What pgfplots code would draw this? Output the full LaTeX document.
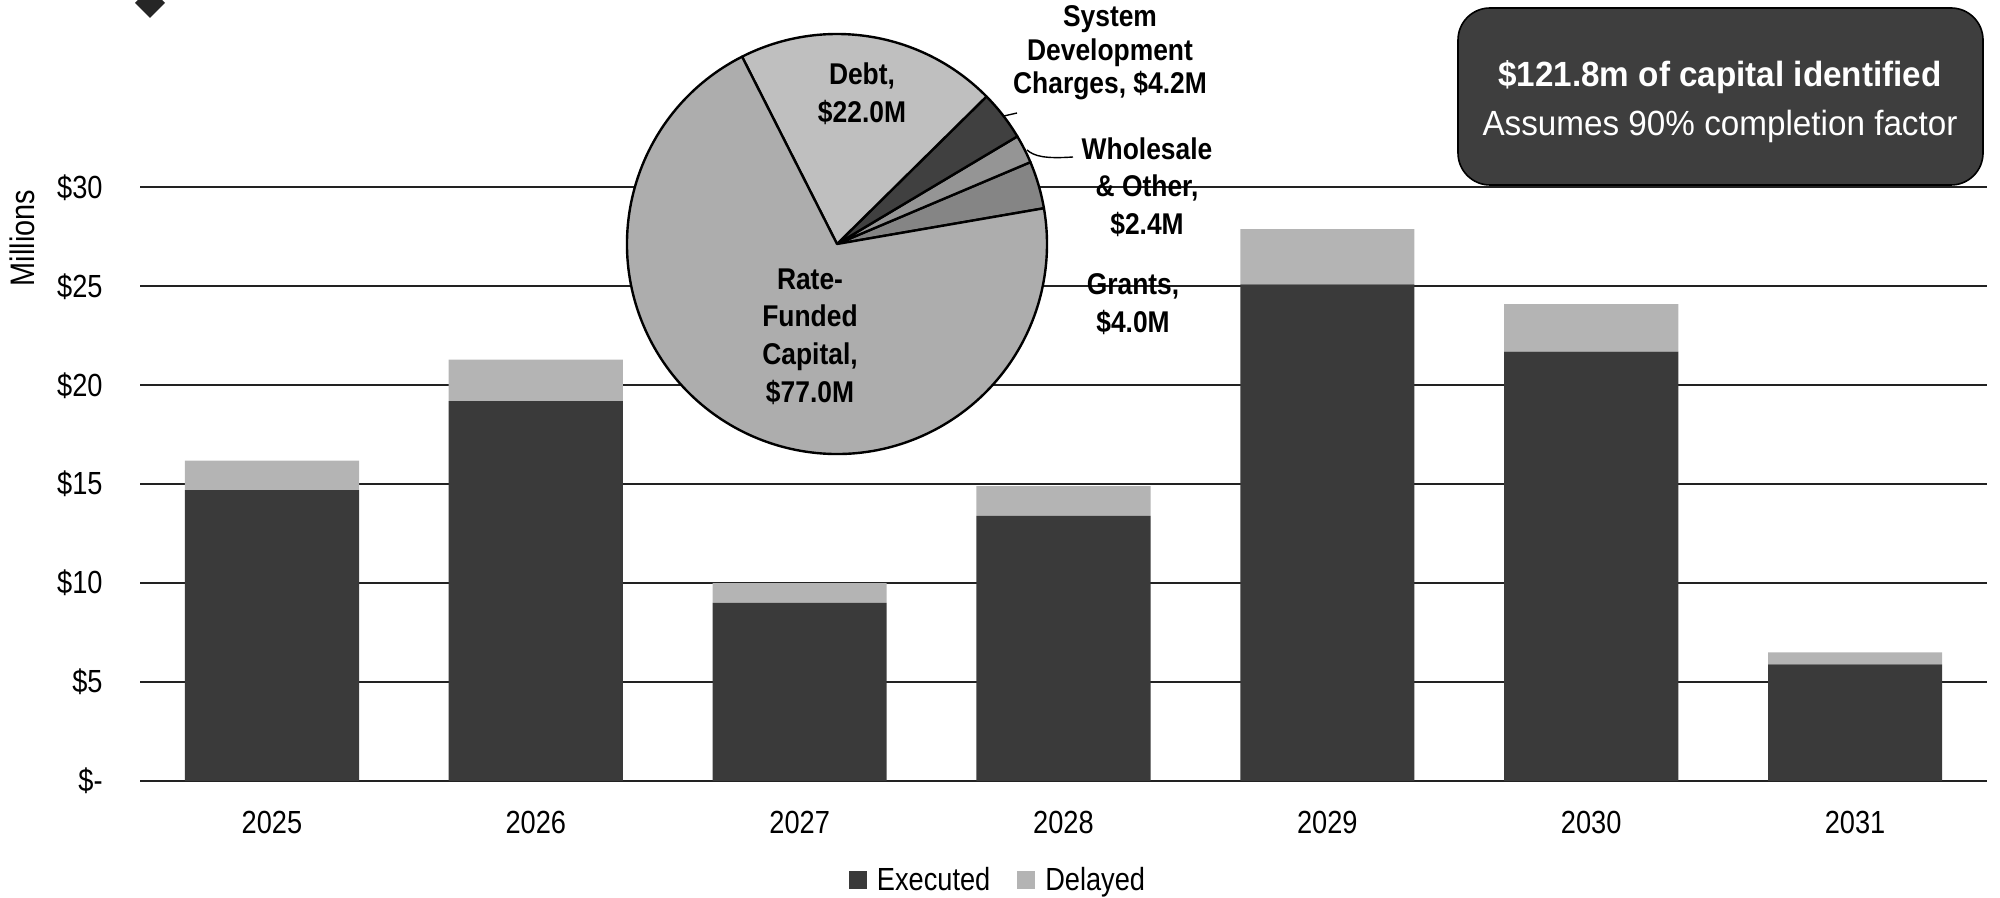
\documentclass[border=0pt]{standalone}
\usepackage{pgfplots}
\pgfplotsset{compat=1.18}
\usepackage{pgfplotstable}
\usepackage{fontspec}
\setmainfont{Liberation Sans}[FakeStretch=0.85]
\newfontfamily\pief{Liberation Sans}[FakeStretch=0.88]
\newfontfamily\boxf{Liberation Sans}[FakeStretch=0.95]

\definecolor{execc}{HTML}{3A3A3A}
\definecolor{delc}{HTML}{B4B4B4}
\definecolor{ratec}{HTML}{ADADAD}
\definecolor{debtc}{HTML}{BFBFBF}
\definecolor{sdcc}{HTML}{404040}
\definecolor{whc}{HTML}{959595}
\definecolor{grc}{HTML}{858585}
\definecolor{boxc}{HTML}{3E3E3E}
\definecolor{gridc}{HTML}{222222}

\pgfplotstableread{
x exec del
0 14.7 1.5
1 19.2 2.1
2 9.0 1.0
3 13.4 1.5
4 25.1 2.8
5 21.7 2.4
6 5.9 0.6
}\bars

\newcommand\tickfont{\fontsize{16bp}{19bp}\selectfont}
\newcommand\piefont{\pief\bfseries\fontsize{15bp}{18.8bp}\selectfont}

\begin{document}
\begin{tikzpicture}
\path[use as bounding box] (0,0) rectangle (1000bp,449bp);

\begin{axis}[
  at={(70bp,58.5bp)}, anchor=south west,
  scale only axis, width=923.5bp, height=296.75bp,
  xmin=-0.5, xmax=6.5, ymin=0, ymax=30,
  ybar stacked, bar width=0.66,
  axis line style={draw=none},
  tick style={draw=none},
  ymajorgrids, grid style={gridc, line width=1bp},
  xtick={0,1,2,3,4,5,6},
  xticklabels={2025,2026,2027,2028,2029,2030,2031},
  ytick={0,5,10,15,20,25,30},
  yticklabels={\$-,\$5,\$10,\$15,\$20,\$25,\$30},
  ticklabel style={font=\tickfont},
  yticklabel style={anchor=east, inner sep=0pt, xshift=-18.5bp},
  xticklabel style={anchor=north, inner sep=0pt, yshift=-15bp},
  legend style={at={(axis description cs:0.464,-0.1668)}, anchor=center,
    draw=none, fill=none, legend columns=2, font=\tickfont,
    nodes={inner sep=0pt, anchor=west},
    /tikz/every odd column/.append style={column sep=5bp},
    /tikz/every even column/.append style={column sep=13.5bp}},
  legend image code/.code={\fill[#1] (0bp,-4.5bp) rectangle (9bp,4.5bp);},
]
\addplot[fill=execc, draw=none] table[x=x, y=exec] {\bars};
\addlegendentry{Executed}
\addplot[fill=delc, draw=none] table[x=x, y=del] {\bars};
\addlegendentry{Delayed}
\end{axis}

% pie chart of funding sources
\begin{axis}[at={(418.5bp,327bp)}, anchor=center, hide axis,
  scale only axis, width=210bp, height=210bp,
  xmin=-1, xmax=1, ymin=-1, ymax=1, clip=false]
\pgfplotsextra{
  \xdef\acc{9.8}
  \foreach \v/\c in {4.0/grc, 2.4/whc, 4.2/sdcc, 22.0/debtc, 77.0/ratec}{
    \pgfmathsetmacro\aEnd{\acc+\v/109.6*360}
    \filldraw[fill=\c, draw=black, line width=1.2bp, line join=round]
      (axis cs:0,0) -- ++(\acc:105bp) arc[start angle=\acc, end angle=\aEnd, radius=105bp] -- cycle;
    \xdef\acc{\aEnd}
  }
}
\end{axis}

% leader lines
\draw[black, line width=0.7bp] (502bp,391bp) -- (508.5bp,392.5bp);
\draw[black, line width=0.7bp] (513.5bp,374bp) .. controls (517bp,371bp) and (522bp,369.5bp) .. (536.5bp,370.5bp);

% pie labels
\node[font=\pief\bfseries\fontsize{15bp}{16.8bp}\selectfont, align=center] at (555bp,422.5bp) {System\\Development\\Charges, \$4.2M};
\node[font=\piefont, align=center] at (431bp,402.25bp) {Debt,\\\$22.0M};
\node[font=\piefont, align=center] at (573.5bp,355.5bp) {Wholesale\\\& Other,\\\$2.4M};
\node[font=\piefont, align=center] at (566.5bp,297bp) {Grants,\\\$4.0M};
\node[font=\piefont, align=center] at (405bp,280.75bp) {Rate-\\Funded\\Capital,\\\$77.0M};

% y-axis title
\node[font=\fontsize{17bp}{20bp}\selectfont, rotate=90] at (11.25bp,330bp) {Millions};

% callout box
\draw[fill=boxc, draw=black, line width=0.8bp, rounded corners=16bp] (729bp,356.5bp) rectangle (991.5bp,445bp);
\node[white, anchor=base, font=\boxf\bfseries\fontsize{17.5bp}{21bp}\selectfont] at (860bp,405.5bp) {\$121.8m of capital identified};
\node[white, anchor=base, font=\boxf\fontsize{17.5bp}{21bp}\selectfont] at (860bp,381bp) {Assumes 90\% completion factor};

% bullet diamond (cropped title)
\fill[black!85] (75bp,455bp) -- (82.5bp,447.5bp) -- (75bp,440bp) -- (67.5bp,447.5bp) -- cycle;
\end{tikzpicture}
\end{document}
